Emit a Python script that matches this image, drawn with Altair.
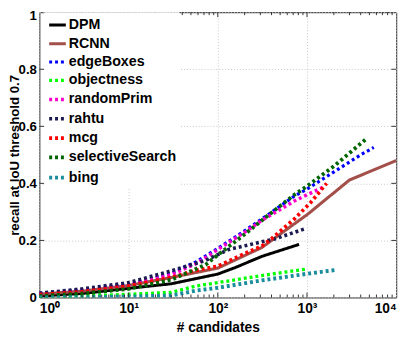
import altair as alt
import pandas as pd

methods = ["DPM", "RCNN", "edgeBoxes", "objectness", "randomPrim",
           "rahtu", "mcg", "selectiveSearch", "bing"]
colors = ["#000000", "#a3504b", "#0000ff", "#00ff00", "#ff00cc",
          "#1a1a50", "#ff0000", "#006400", "#1a8c9c"]

# recall curves (x = # candidates, y = recall)
dpm_x = [1, 3, 10, 30, 100, 160, 311, 815]
dpm_y = [0.005, 0.014, 0.032, 0.048, 0.082, 0.106, 0.144, 0.186]

rcnn_x = [1, 3, 10, 30, 100, 311, 720, 1000, 3000, 10000]
rcnn_y = [0.012, 0.022, 0.042, 0.07, 0.103, 0.175, 0.258, 0.29, 0.412, 0.48]

edge_x = [1, 3, 10, 30, 57, 100, 203, 311, 720, 1000, 2000, 4000, 5600]
edge_y = [0.015, 0.027, 0.046, 0.085, 0.125, 0.172, 0.235, 0.275, 0.355,
          0.38, 0.44, 0.50, 0.526]

obj_x = [1, 3, 10, 30, 57, 100, 311, 1000]
obj_y = [0.002, 0.005, 0.011, 0.018, 0.04, 0.052, 0.077, 0.10]

rprim_x = [1, 3, 10, 30, 57, 100, 203, 311, 720, 1000, 1600]
rprim_y = [0.012, 0.025, 0.045, 0.08, 0.118, 0.168, 0.23, 0.27, 0.338, 0.36, 0.39]

rahtu_x = [1, 3, 10, 29, 73, 132, 311, 433, 930]
rahtu_y = [0.015, 0.03, 0.052, 0.092, 0.13, 0.168, 0.195, 0.205, 0.24]

mcg_x = [1, 3, 10, 30, 57, 100, 203, 311, 400, 720, 1100, 1660]
mcg_y = [0.01, 0.02, 0.04, 0.07, 0.095, 0.11, 0.155, 0.18, 0.206, 0.275, 0.333, 0.40]

ss_x = [1, 3, 10, 30, 73, 100, 203, 311, 720, 1000, 2000, 4530]
ss_y = [0.005, 0.014, 0.03, 0.062, 0.115, 0.149, 0.223, 0.27, 0.36, 0.39, 0.46, 0.554]

bing_x = [1, 3, 10, 30, 57, 100, 311, 1000, 2140]
bing_y = [0.0, 0.001, 0.003, 0.007, 0.024, 0.034, 0.06, 0.083, 0.097]

series_x = [dpm_x, rcnn_x, edge_x, obj_x, rprim_x, rahtu_x, mcg_x, ss_x, bing_x]
series_y = [dpm_y, rcnn_y, edge_y, obj_y, rprim_y, rahtu_y, mcg_y, ss_y, bing_y]

x_ticks = [1, 10, 100, 1000, 10000]
y_ticks = [0, 0.2, 0.4, 0.6, 0.8, 1]
x_minor = [2, 3, 4, 5, 6, 7, 8, 9, 20, 30, 40, 50, 60, 70, 80, 90,
           200, 300, 400, 500, 600, 700, 800, 900,
           2000, 3000, 4000, 5000, 6000, 7000, 8000, 9000]
x_major = [10, 100, 1000]
y_inner = [0.2, 0.4, 0.6, 0.8]

rows = []
for m, xs, ys in zip(methods, series_x, series_y):
    for xv, yv in zip(xs, ys):
        rows.append({"method": m, "n": xv, "recall": yv})
df = pd.DataFrame(rows)

dashes = [[1, 0], [1, 0]] + [[3, 3]] * 7
widths = [3, 4] + [3] * 7

FONT = "Liberation Sans"
W, H = 364, 291
XT = "# candidates"
YT = "recall at IoU threshold 0.7"

xscale = alt.Scale(type="log", domain=[1, 10000])
yscale = alt.Scale(domain=[0, 1])

legend = alt.Legend(
    title=None, orient="none", legendX=5, legendY=0,
    symbolType="stroke", symbolSize=289, symbolStrokeWidth=3,
    labelFont=FONT, labelFontWeight="bold", labelFontSize=14.5,
    labelOffset=1, labelLimit=300, fillColor="white", padding=3,
    rowPadding=1.65,
)

sup = {1: "10⁰", 10: "10¹", 100: "10²", 1000: "10³", 10000: "10⁴"}
x_label_expr = " : ".join(
    f"datum.value == {k} ? '{v}'" for k, v in sup.items()) + " : ''"

lines = alt.Chart(df).mark_line(strokeCap="butt", clip=True).encode(
    x=alt.X("n:Q", scale=xscale, title=XT,
            axis=alt.Axis(values=x_ticks, labelExpr=x_label_expr, grid=True,
                          gridDash=[1, 2], gridColor="#c8c8c8", ticks=False,
                          domain=False, labelFontSize=14, labelPadding=4,
                          labelFont=FONT, labelFontWeight="bold",
                          titleFont=FONT, titleFontWeight="bold",
                          titleFontSize=14, titlePadding=6)),
    y=alt.Y("recall:Q", scale=yscale, title=YT,
            axis=alt.Axis(values=y_ticks,
                          labelExpr="datum.value == 0 ? '0' : datum.value == 1 ? '1' : format(datum.value, '.1f')",
                          grid=True, gridDash=[1, 2], gridColor="#c8c8c8",
                          ticks=False, domain=False, labelFontSize=13.5,
                          labelPadding=3, labelFont=FONT, labelFontWeight="bold",
                          labelOffset={"condition": {"test": "datum.value == 1", "value": 3}, "value": 0},
                          titleFont=FONT, titleFontWeight="bold",
                          titleFontSize=13.5, titleBaseline="alphabetic",
                          titleX=-21.5)),
    color=alt.Color("method:N", scale=alt.Scale(domain=methods, range=colors),
                    legend=legend, sort=methods),
    strokeDash=alt.StrokeDash("method:N", scale=alt.Scale(domain=methods, range=dashes),
                              legend=legend, sort=methods),
    strokeWidth=alt.StrokeWidth("method:N", scale=alt.Scale(domain=methods, range=widths),
                                legend=None),
)

tick_color = "#333333"
minor_df = pd.DataFrame({"v": x_minor})
major_df = pd.DataFrame({"v": x_major})
yin_df = pd.DataFrame({"v": y_inner})


def xrule(data, y0, y1):
    return alt.Chart(data).mark_rule(color=tick_color, strokeWidth=1).encode(
        x=alt.X("v:Q", scale=xscale, title=XT), y=alt.value(y0), y2=alt.value(y1))


def yrule(x0, x1):
    return alt.Chart(yin_df).mark_rule(color=tick_color, strokeWidth=1).encode(
        y=alt.Y("v:Q", scale=yscale, title=YT), x=alt.value(x0), x2=alt.value(x1))


chart = alt.layer(
    lines,
    xrule(minor_df, H, H - 3), xrule(minor_df, 0, 3),
    xrule(major_df, H, H - 5), xrule(major_df, 0, 5),
    yrule(0, 5), yrule(W, W - 5),
).properties(
    width=W, height=H,
    autosize=alt.AutoSizeParams(type="none"),
    padding={"left": 32, "top": 1, "right": 11, "bottom": 36},
).configure_view(stroke="#222222", strokeWidth=1)

chart.save("out.html", embed_options={"renderer": "svg", "actions": False})
